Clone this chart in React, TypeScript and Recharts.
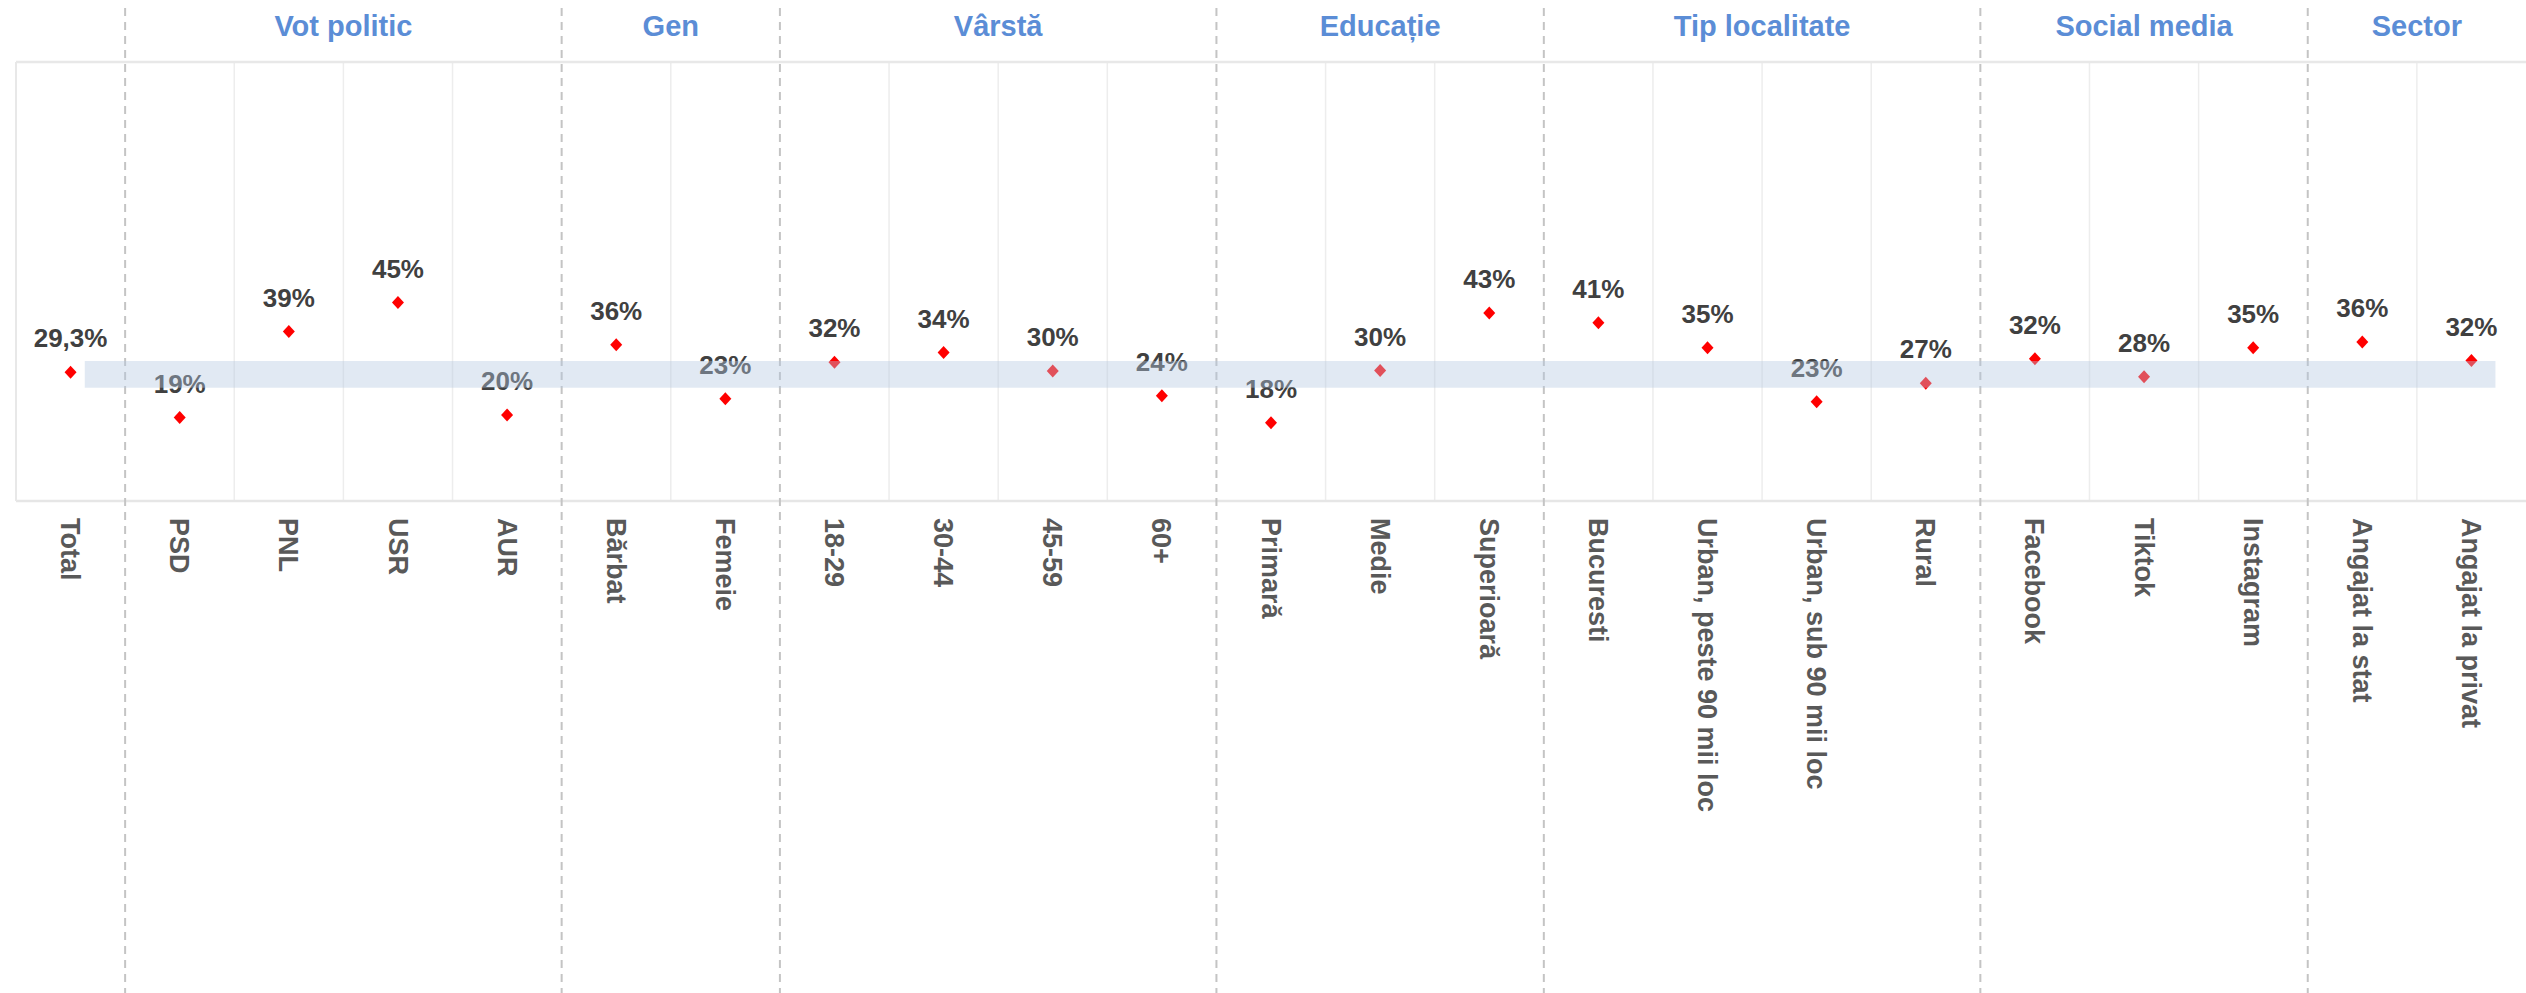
import React from "react";
import {
  ComposedChart,
  Scatter,
  XAxis,
  YAxis,
  ReferenceLine,
  ReferenceArea,
} from "recharts";

const CATEGORIES = [
  "Total",
  "PSD",
  "PNL",
  "USR",
  "AUR",
  "Bărbat",
  "Femeie",
  "18-29",
  "30-44",
  "45-59",
  "60+",
  "Primară",
  "Medie",
  "Superioară",
  "Bucuresti",
  "Urban, peste 90 mii loc",
  "Urban, sub 90 mii loc",
  "Rural",
  "Facebook",
  "Tiktok",
  "Instagram",
  "Angajat la stat",
  "Angajat la privat",
];

const VALUES = [
  29.3, 19.0, 38.6, 45.2, 19.6, 35.6, 23.3, 31.6, 33.8, 29.6, 24.0, 17.8, 29.7,
  42.8, 40.6, 34.9, 22.6, 26.8, 32.4, 28.3, 34.9, 36.2, 32.0,
];

const VALUE_LABELS = [
  "29,3%", "19%", "39%", "45%", "20%", "36%", "23%", "32%", "34%", "30%",
  "24%", "18%", "30%", "43%", "41%", "35%", "23%", "27%", "32%", "28%",
  "35%", "36%", "32%",
];

const GROUP_NAMES = [
  "Vot politic",
  "Gen",
  "Vârstă",
  "Educație",
  "Tip localitate",
  "Social media",
  "Sector",
];
const GROUP_CENTERS = [2.5, 5.5, 8.5, 12, 15.5, 19, 21.5];
const GROUP_BOUNDARIES = [0.5, 4.5, 6.5, 10.5, 13.5, 17.5, 20.5];

const BAND_LOW = 25.8;
const BAND_HIGH = 31.9;
const BAND_X_START = 0.13;
const BAND_X_END = 22.22;

const SEPARATOR_TOP = 112.3;
const SEPARATOR_BOTTOM = -115;

const FONT = "'Liberation Sans', Arial, Helvetica, sans-serif";

const rows = CATEGORIES.map((name, i) => ({
  x: i,
  y: VALUES[i],
  label: VALUE_LABELS[i],
  name,
}));

const gridPositions = CATEGORIES.slice(0, -1)
  .map((_, i) => i + 0.5)
  .filter((p) => !GROUP_BOUNDARIES.includes(p));

const BottomTick = (props: any) => {
  const { x, y, payload } = props;
  const idx = Math.round(payload.value);
  return (
    <text
      x={x}
      y={y}
      transform={`rotate(90, ${x}, ${y})`}
      textAnchor="start"
      dy="0.35em"
      fontSize={27}
      fontWeight="bold"
      fill="#595959"
      fontFamily={FONT}
    >
      {CATEGORIES[idx]}
    </text>
  );
};

const TopTick = (props: any) => {
  const { x, payload } = props;
  const idx = GROUP_CENTERS.indexOf(payload.value);
  return (
    <text
      x={x}
      y={36}
      textAnchor="middle"
      fontSize={29}
      fontWeight="bold"
      fill="#5B8DD6"
      fontFamily={FONT}
    >
      {GROUP_NAMES[idx]}
    </text>
  );
};

const Diamond = (props: any) => {
  const { cx, cy, payload } = props;
  return (
    <g>
      <text
        x={cx}
        y={cy - 25}
        textAnchor="middle"
        fontSize={26}
        fontWeight="bold"
        fill="#404040"
        fontFamily={FONT}
      >
        {payload.label}
      </text>
      <path
        d={`M${cx},${cy - 6.5} L${cx + 6},${cy} L${cx},${cy + 6.5} L${cx - 6},${cy} Z`}
        fill="#FF0000"
      />
    </g>
  );
};

export default function App() {
  return (
    <div
      style={{
        position: "absolute",
        left: 0,
        top: 0,
        width: 2526,
        height: 993,
        background: "#ffffff",
      }}
    >
      <ComposedChart
        width={2526}
        height={993}
        data={rows}
        margin={{ top: 0, right: 0, bottom: 0, left: 16 }}
      >
        <XAxis
          xAxisId="top"
          orientation="top"
          type="number"
          dataKey="x"
          domain={[-0.5, 22.5]}
          ticks={GROUP_CENTERS}
          height={62}
          axisLine={false}
          tickLine={false}
          tickSize={0}
          tick={<TopTick />}
          interval={0}
        />
        <XAxis
          type="number"
          dataKey="x"
          domain={[-0.5, 22.5]}
          ticks={CATEGORIES.map((_, i) => i)}
          height={492}
          axisLine={false}
          tickLine={false}
          tickSize={0}
          tickMargin={17}
          tick={<BottomTick />}
          interval={0}
        />
        <YAxis type="number" dataKey="y" domain={[0, 100]} hide />

        {gridPositions.map((p) => (
          <ReferenceLine
            key={`g${p}`}
            x={p}
            stroke="#EDEDED"
            strokeWidth={1.5}
            ifOverflow="visible"
          />
        ))}
        <ReferenceLine y={100} stroke="#E8E8E8" strokeWidth={2.5} ifOverflow="visible" />
        <ReferenceLine y={0} stroke="#E6E6E6" strokeWidth={2.5} ifOverflow="visible" />
        <ReferenceLine x={-0.5} stroke="#E8E8E8" strokeWidth={2} ifOverflow="visible" />

        {GROUP_BOUNDARIES.map((p) => (
          <ReferenceLine
            key={`s${p}`}
            segment={[
              { x: p, y: SEPARATOR_TOP },
              { x: p, y: SEPARATOR_BOTTOM },
            ]}
            stroke="#C4C4C4"
            strokeWidth={2}
            strokeDasharray="8 6"
            ifOverflow="visible"
          />
        ))}

        <Scatter
          data={rows}
          dataKey="y"
          isAnimationActive={false}
          shape={<Diamond />}
        />

        <ReferenceArea
          x1={BAND_X_START}
          x2={BAND_X_END}
          y1={BAND_LOW}
          y2={BAND_HIGH}
          fill="rgb(180,200,225)"
          fillOpacity={0.4}
          stroke="none"
          ifOverflow="visible"
          zIndex={3000}
        />
      </ComposedChart>
    </div>
  );
}
